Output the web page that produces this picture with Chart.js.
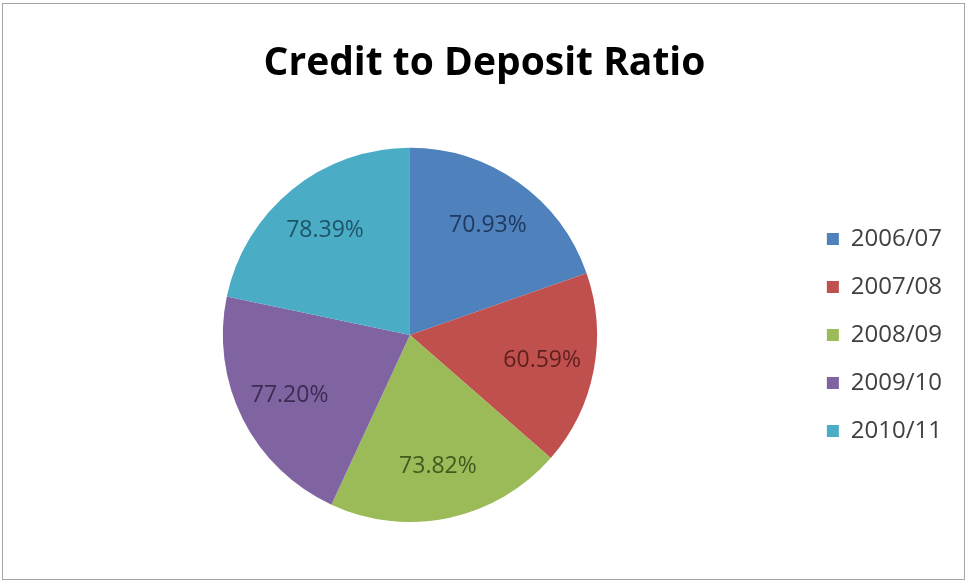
<!DOCTYPE html>
<html>
<head>
<meta charset="utf-8">
<script src="https://cdn.jsdelivr.net/npm/chart.js@4/dist/chart.umd.min.js"></script>
<style>
  html, body { margin: 0; padding: 0; background: #fff; }
  #wrap { position: relative; width: 967px; height: 582px; }
  #frame {
    position: absolute; left: 2px; top: 3px; width: 961px; height: 575px;
    border: 1px solid #a6a6a6; pointer-events: none;
  }
  canvas { position: absolute; left: 0; top: 0; }
</style>
</head>
<body>
<div id="wrap">
  <canvas id="chart" width="967" height="582"></canvas>
  <div id="frame"></div>
</div>
<script>
const years = ['2006/07', '2007/08', '2008/09', '2009/10', '2010/11']
const ratios = [70.93, 60.59, 73.82, 77.20, 78.39]
const sliceColors = ['#4f81bd', '#c0504d', '#9bbb59', '#8064a2', '#4bacc6']
const labelColors = ['#1f3a60', '#5e1f1d', '#435a1f', '#3b2c52', '#1d5566']

// Writes each slice's value inside the slice, a bit past halfway out
const sliceLabels = {
  id: 'sliceLabels',
  afterDatasetsDraw(chart) {
    const ctx = chart.ctx
    const meta = chart.getDatasetMeta(0)
    ctx.save()
    ctx.font = '23px "Open Sans", sans-serif'
    ctx.textAlign = 'center'
    ctx.textBaseline = 'middle'
    meta.data.forEach((arc, i) => {
      const { x, y, startAngle, endAngle, outerRadius } = arc.getProps(['x', 'y', 'startAngle', 'endAngle', 'outerRadius'], true)
      const mid = (startAngle + endAngle) / 2
      const r = outerRadius * 0.72
      ctx.fillStyle = labelColors[i]
      ctx.fillText(ratios[i].toFixed(2) + '%', x + Math.cos(mid) * r, y + Math.sin(mid) * r)
    })
    ctx.restore()
  }
}

new Chart(document.getElementById('chart'), {
  type: 'pie',
  data: {
    labels: years,
    datasets: [{
      data: ratios,
      backgroundColor: sliceColors,
      borderWidth: 0
    }]
  },
  options: {
    responsive: false,
    animation: false,
    layout: {
      padding: { left: 17, right: 15, top: 0, bottom: 60 }
    },
    plugins: {
      title: {
        display: true,
        text: 'Credit to Deposit Ratio',
        color: '#000',
        font: { family: '"Open Sans", sans-serif', size: 39, weight: 'bold' },
        padding: { top: 40, bottom: 61 }
      },
      legend: {
        position: 'right',
        fullSize: false,
        labels: {
          boxWidth: 12,
          boxHeight: 12,
          padding: 24,
          color: '#404040',
          font: { family: '"Open Sans", sans-serif', size: 24 }
        }
      },
      tooltip: { enabled: false }
    }
  },
  plugins: [sliceLabels]
})
</script>
</body>
</html>
